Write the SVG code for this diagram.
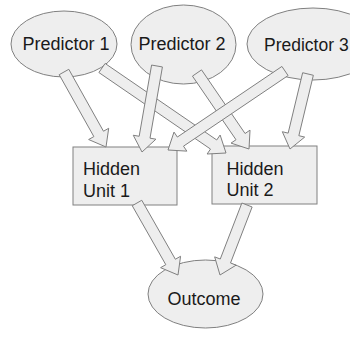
<svg xmlns="http://www.w3.org/2000/svg" width="350" height="337" viewBox="0 0 350 337">
  <style>
    .node { fill: #eeeeee; stroke: #808080; stroke-width: 1; }
    .arrow { fill: #eeeeee; stroke: #808080; stroke-width: 1; stroke-linejoin: miter; }
    .label { font-family: "Liberation Sans", Arial, sans-serif; font-size: 18px; fill: #1a1a1a; }
    .mid { text-anchor: middle; }
  </style>
  <rect width="350" height="337" fill="#ffffff"/>

  <g id="predictor-1">
    <ellipse class="node" cx="64" cy="44" rx="53" ry="33"/>
    <text class="label mid" x="66" y="50">Predictor 1</text>
  </g>
  <g id="predictor-2">
    <ellipse class="node" cx="183.5" cy="44.5" rx="52.5" ry="39.5"/>
    <text class="label mid" x="182" y="50">Predictor 2</text>
  </g>
  <g id="predictor-3">
    <ellipse class="node" cx="313" cy="44" rx="66" ry="36"/>
    <text class="label" x="264" y="50.5" style="font-size:17.5px">Predictor 3</text>
  </g>
  <g id="hidden-unit-1">
    <rect class="node" x="73" y="147" width="104" height="58"/>
    <text class="label" x="83" y="175">Hidden</text>
    <text class="label" x="83" y="196.5">Unit 1</text>
  </g>
  <g id="hidden-unit-2">
    <rect class="node" x="212" y="146" width="105" height="58"/>
    <text class="label" x="226.5" y="175">Hidden</text>
    <text class="label" x="226.5" y="196">Unit 2</text>
  </g>
  <g id="outcome">
    <ellipse class="node" cx="205.5" cy="294" rx="57.5" ry="34"/>
    <text class="label mid" x="204" y="305">Outcome</text>
  </g>

  <!-- block arrows: shaft 11px wide, head 23px wide, 15px long -->
  <g id="connectors">
    <polygon class="arrow" points="59.2,74.69 93.87,136.6 88.64,139.53 106,147 108.7,128.29 103.47,131.22 68.8,69.31"/>
    <polygon class="arrow" points="98.89,72.54 210.51,149.05 207.11,154 226,153 220.13,135.02 216.73,139.97 105.11,63.46"/>
    <polygon class="arrow" points="151.58,65.06 139.16,136.28 133.25,135.24 142,152 155.91,139.2 150,138.16 162.42,66.94"/>
    <polygon class="arrow" points="192.46,76.11 235.99,139.73 231.04,143.11 249,149 250.02,130.13 245.07,133.51 201.54,69.89"/>
    <polygon class="arrow" points="281.92,66.44 177.35,137.05 174,132.08 168,150 186.86,151.14 183.51,146.17 288.08,75.56"/>
    <polygon class="arrow" points="302.65,72.72 288.15,133.13 282.32,131.73 290,149 304.68,137.09 298.85,135.69 313.35,75.28"/>
    <polygon class="arrow" points="132.22,205.72 165.8,264.69 160.59,267.66 178,275 180.57,256.28 175.36,259.25 141.78,200.28"/>
    <polygon class="arrow" points="241.87,203.02 220.27,259.02 214.67,256.86 220,275 236.13,265.14 230.53,262.98 252.13,206.98"/>
  </g>
</svg>
